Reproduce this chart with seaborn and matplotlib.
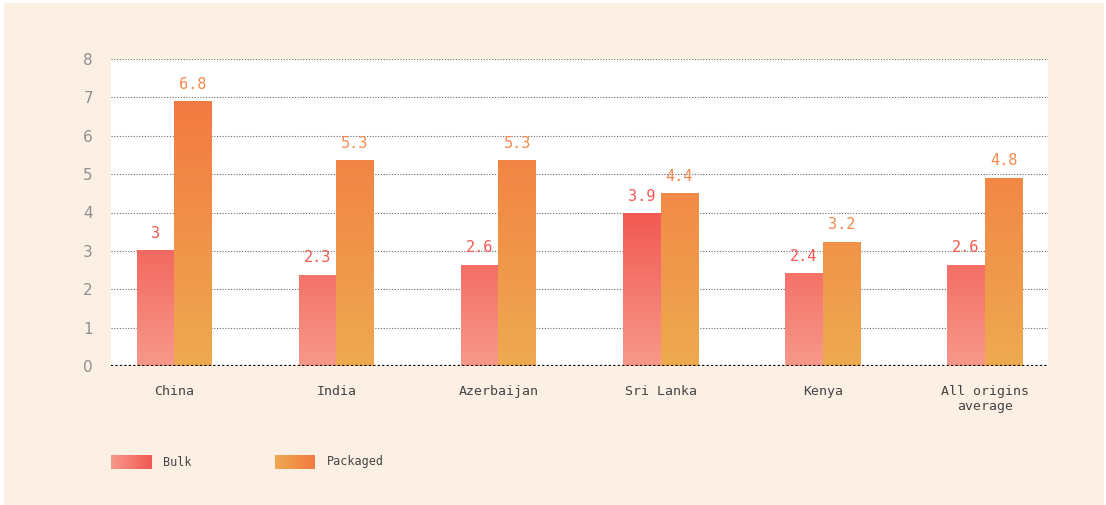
import numpy as np
import pandas as pd
import seaborn as sns
import matplotlib
matplotlib.use("Agg")
import matplotlib.pyplot as plt
from matplotlib.colors import LinearSegmentedColormap
from matplotlib.patches import Rectangle

# values (bar heights) and the printed labels
origins = ["China", "India", "Azerbaijan", "Sri Lanka", "Kenya", "All origins\naverage"]
bulk = [3.02, 2.37, 2.63, 3.98, 2.42, 2.63]
packaged = [6.9, 5.36, 5.36, 4.5, 3.23, 4.9]
bulk_labels = ["3", "2.3", "2.6", "3.9", "2.4", "2.6"]
packaged_labels = ["6.8", "5.3", "5.3", "4.4", "3.2", "4.8"]
series = ["Bulk", "Packaged"]

df = pd.DataFrame({
    "origin": origins * 2,
    "value": bulk + packaged,
    "series": ["Bulk"] * len(origins) + ["Packaged"] * len(origins),
})

bg = "#fcf0e4"
bulk_cmap = LinearSegmentedColormap.from_list("bulk", ["#f7998b", "#f25952"])
pack_cmap = LinearSegmentedColormap.from_list("pack", ["#eeaa50", "#f37a42"])
cmaps = {"Bulk": bulk_cmap, "Packaged": pack_cmap}
text_cols = {"Bulk": "#f25952", "Packaged": "#f4894a"}

sns.set_style("white")
plt.rcParams["font.family"] = ["DejaVu Sans Mono", "DejaVu Sans"]

fig = plt.figure(figsize=(11.06, 5.05), dpi=100, facecolor="white")
fig.patches.append(Rectangle((4 / 1106, 0), 1100 / 1106, 502 / 505,
                             transform=fig.transFigure, facecolor=bg,
                             edgecolor="none", zorder=-10))
ax = fig.add_axes([111 / 1106, 1 - 366 / 505, 937 / 1106, 307 / 505])
ax.set_facecolor("white")

sns.barplot(data=df, x="origin", y="value", hue="series", ax=ax,
            width=0.462, palette=["#f25952", "#f37a42"], legend=False,
            saturation=1, edgecolor="none")

ax.set_ylim(0, 8)
ax.set_xlim(-0.39, 5.39)

# gradient fill clipped to each bar
grad = np.linspace(0, 1, 256).reshape(-1, 1)
for container, name in zip(ax.containers, series):
    top = max(p.get_height() for p in container)
    labels = bulk_labels if name == "Bulk" else packaged_labels
    for p, lab in zip(container, labels):
        x0, w, h = p.get_x(), p.get_width(), p.get_height()
        p.set_facecolor("none")
        im = ax.imshow(grad, cmap=cmaps[name], aspect="auto", origin="lower",
                       extent=(x0, x0 + w, 0, top), zorder=2)
        im.set_clip_path(p)
        ax.text(x0 + w / 2, h + 0.25, lab, ha="center", va="bottom",
                color=text_cols[name], fontsize=11)

ax.set_yticks(range(0, 9))
ax.yaxis.grid(True, linestyle=(0, (1, 1.5)), color="#6a6a6a", linewidth=0.8)
ax.set_axisbelow(True)
ax.axhline(0, color="black", linestyle=(0, (1, 1)), linewidth=1.6, zorder=3)
for s in ax.spines.values():
    s.set_visible(False)
ax.tick_params(axis="y", length=0, pad=13, labelsize=11, labelcolor="#8f8f8f")
ax.tick_params(axis="x", length=0, pad=14, labelsize=9.5, labelcolor="#444444")
for t in ax.get_yticklabels():
    t.set_family("DejaVu Sans")
ax.set_xlabel("")
ax.set_ylabel("")

# legend with horizontal gradient swatches
hgrad = np.linspace(0, 1, 256).reshape(1, -1)
swatches = [("Bulk", 111, bulk_cmap), ("Packaged", 275, pack_cmap)]
for name, x, cm in swatches:
    sax = fig.add_axes([x / 1106, 1 - 469 / 505, 40 / 1106, 14 / 505])
    sax.imshow(hgrad, cmap=cm, aspect="auto")
    sax.axis("off")
    fig.text((x + 52) / 1106, 1 - 462 / 505, name, ha="left", va="center",
             fontsize=8.5, color="#444444")

fig.savefig("out.png", dpi=100, facecolor="white")
